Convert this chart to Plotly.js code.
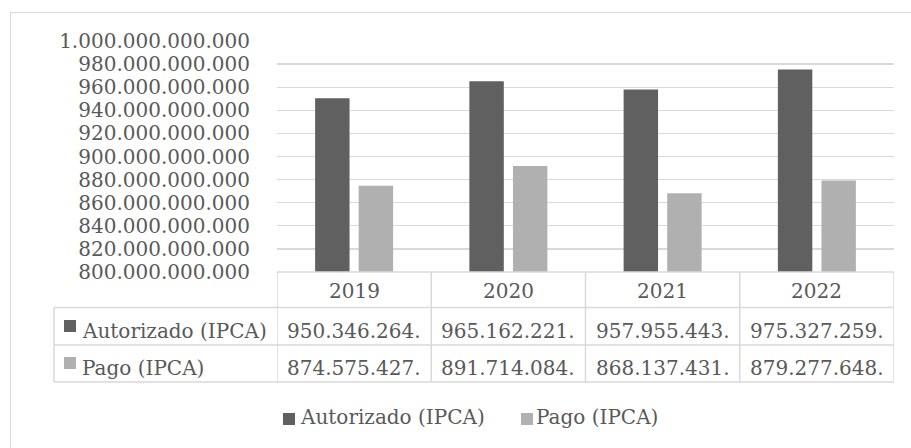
<!DOCTYPE html>
<html>
<head>
<meta charset="utf-8">
<script src="https://cdn.plot.ly/plotly-3.0.1.min.js"></script>
<style>
  html, body { margin: 0; padding: 0; background: #ffffff; }
  #frame { position: absolute; left: 10px; top: 12px; width: 1000px; height: 1000px;
           border: 1.5px solid #d9d9d9; box-sizing: border-box; }
  #chart { position: absolute; left: 0; top: 0; width: 911px; height: 448px; }
</style>
</head>
<body>
<div id="frame"></div>
<div id="chart"></div>
<script>
// ---- data ----
const years = ["2019", "2020", "2021", "2022"];
const seriesNames = ["Autorizado (IPCA)", "Pago (IPCA)"];
const autorizado = [950346264000, 965162221000, 957955443000, 975327259000];
const pago = [874575427000, 891714084000, 868137431000, 879277648000];
const yTickVals = [800e9, 820e9, 840e9, 860e9, 880e9, 900e9, 920e9, 940e9, 960e9, 980e9, 1000e9];

// ---- style ----
const colors = ["#606060", "#b0b0b0"];
const textColor = "#595959";
const lineColor = "#d9d9d9";
const fontFamily = "DejaVu Serif, serif";
const fs = 20;

// layout geometry (pixels)
const W = 911, H = 448;
const M = { l: 277, r: 17, t: 41, b: 176 };
const plotH = H - M.t - M.b;
const plotW = W - M.l - M.r;
const py = px => (H - M.b - px) / plotH;       // pixel y -> paper y
const pxX = px => (px - M.l) / plotW;          // pixel x -> paper x

function fmt(v) {
  const s = Math.round(v).toString().replace(/\B(?=(\d{3})+(?!\d))/g, ".");
  return s.slice(0, 12); // cell too narrow: Excel shows truncated text
}

const traces = [
  { type: "bar", x: years, y: autorizado, name: seriesNames[0],
    marker: { color: colors[0] }, showlegend: false, hoverinfo: "skip" },
  { type: "bar", x: years, y: pago, name: seriesNames[1],
    marker: { color: colors[1] }, showlegend: false, hoverinfo: "skip" }
];

// ---- table (shapes + annotations) ----
const yHeaderTop = py(272), yRow1Top = py(307.5), yRow2Top = py(345), yBottom = py(382);
const xTableLeft = pxX(54);
const shapes = [];
const lineStyle = { color: lineColor, width: 1.5 };
shapes.push({ type: "line", xref: "paper", yref: "paper", x0: 0, x1: 1, y0: yHeaderTop, y1: yHeaderTop, line: lineStyle });
[yRow1Top, yRow2Top, yBottom].forEach(y => shapes.push({ type: "line", xref: "paper", yref: "paper",
  x0: xTableLeft, x1: 1, y0: y, y1: y, line: lineStyle }));
shapes.push({ type: "line", xref: "paper", yref: "paper", x0: xTableLeft, x1: xTableLeft, y0: yRow1Top, y1: yBottom, line: lineStyle });
for (let i = 0; i <= years.length; i++) {
  shapes.push({ type: "line", xref: "x", yref: "paper", x0: i - 0.5, x1: i - 0.5, y0: yHeaderTop, y1: yBottom, line: lineStyle });
}

const annotations = [];
const txtFont = { family: fontFamily, size: fs, color: textColor };
const rowYPx = [330.5, 367.5];
const headerY = py(291);
const seriesVals = [autorizado, pago];
years.forEach((yr, i) => {
  annotations.push({ xref: "x", yref: "paper", x: i, y: headerY, text: yr, showarrow: false,
    xanchor: "center", yanchor: "middle", font: txtFont });
  seriesVals.forEach((vals, s) => {
    annotations.push({ xref: "x", yref: "paper", x: i, y: py(rowYPx[s]), text: fmt(vals[i]), showarrow: false,
      xanchor: "center", yanchor: "middle", font: txtFont });
  });
});

function keyBox(xPx, yPx, color) {
  return { xref: "paper", yref: "paper", x: pxX(xPx), y: py(yPx), text: " ", showarrow: false,
    xanchor: "left", yanchor: "middle", width: 12, height: 12, borderpad: 0, borderwidth: 0,
    bgcolor: color, font: { size: 2 } };
}
function keyText(xPx, yPx, text) {
  return { xref: "paper", yref: "paper", x: pxX(xPx), y: py(yPx), text: text, showarrow: false,
    xanchor: "left", yanchor: "middle", borderpad: 0, font: { family: fontFamily, size: 20, color: textColor } };
}
// row header keys
const rowKeyY = [325.5, 363];
seriesNames.forEach((name, s) => {
  annotations.push(keyBox(63.5, rowKeyY[s], colors[s]));
  annotations.push(keyText(80.5, rowYPx[s], name));
});
// bottom legend
const legBoxX = [282.5, 520.5];
const legTextX = [298.5, 535];
seriesNames.forEach((name, s) => {
  annotations.push(keyBox(legBoxX[s], 418.7, colors[s]));
  annotations.push(keyText(legTextX[s], 416.5, name));
});

const layout = {
  width: W, height: H,
  margin: M,
  paper_bgcolor: "rgba(0,0,0,0)",
  plot_bgcolor: "rgba(0,0,0,0)",
  separators: ",.",
  barmode: "group",
  bargap: 0.435,
  bargroupgap: 0.21,
  showlegend: false,
  xaxis: { type: "category", showticklabels: false, showgrid: false, zeroline: false, showline: false,
    range: [-0.5, years.length - 0.5] },
  yaxis: { range: [800e9, 1000e9], tickvals: yTickVals, tickformat: ",d",
    showgrid: true, gridcolor: lineColor, gridwidth: 1.3, zeroline: false, showline: false,
    ticks: "outside", ticklen: 22, tickcolor: "rgba(0,0,0,0)",
    tickfont: { family: fontFamily, size: fs, color: textColor } },
  shapes: shapes,
  annotations: annotations
};

Plotly.newPlot("chart", traces, layout, { staticPlot: true, displayModeBar: false });
</script>
</body>
</html>
